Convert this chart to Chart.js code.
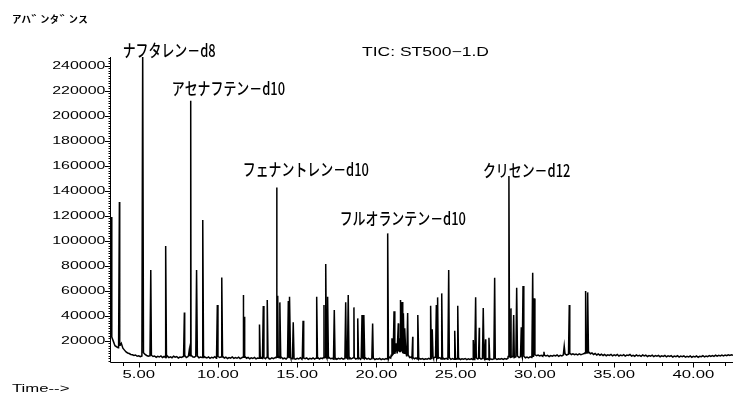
<!DOCTYPE html>
<html>
<head>
<meta charset="utf-8">
<script src="https://cdn.jsdelivr.net/npm/chart.js@4.4.1/dist/chart.umd.min.js"></script>
<style>
  html, body { margin: 0; background: #fff; }
  canvas { display: block; }
</style>
</head>
<body>
<canvas id="tic" width="733" height="394"></canvas>
<script>
// Retention time axis (min) and abundance axis
const xTickValues = [5, 10, 15, 20, 25, 30, 35, 40];
const xTickLabels = ['5.00', '10.00', '15.00', '20.00', '25.00', '30.00', '35.00', '40.00'];
const yTickValues = [20000, 40000, 60000, 80000, 100000, 120000, 140000, 160000, 180000, 200000, 220000, 240000];
const yTickLabels = ['20000', '40000', '60000', '80000', '100000', '120000', '140000', '160000', '180000', '200000', '220000', '240000'];

// solvent tail at the very start of the run
const solventTime = 3.25;
const solventValue = 119000;

// baseline, one value per 0.1 min from 3.3 min, in thousands
const baseStart = 3.3;
const baseStep = 0.1;
const baselineK = [
  23.0, 19.5, 16.0, 15.2, 14.5, 16.5, 18.0, 14.0, 12.5, 11.0,
  10.2, 9.8, 9.0, 8.8, 8.2, 8.6, 7.6, 8.0, 7.2, 7.8,
  10.5, 9.0, 8.2, 7.6, 8.0, 8.4, 7.4, 7.8, 6.8, 7.6,
  7.0, 7.9, 6.6, 7.4, 7.0, 7.8, 6.5, 7.2, 6.4, 7.6,
  6.8, 7.3, 6.2, 7.0, 6.6, 7.4, 7.9, 6.6, 7.2, 8.0,
  8.6, 7.2, 6.8, 7.5, 7.8, 6.4, 7.0, 6.6, 7.8, 6.8,
  6.2, 7.1, 5.9, 6.8, 6.3, 7.2, 6.0, 7.4, 6.6, 7.0,
  7.5, 6.2, 6.8, 5.8, 6.6, 6.1, 7.0, 5.9, 6.5, 6.0,
  6.9, 5.7, 6.4, 6.8, 7.2, 6.0, 6.6, 5.6, 6.3, 5.8,
  6.7, 5.5, 6.2, 6.0, 6.9, 5.8, 6.4, 5.6, 6.6, 6.0,
  5.5, 6.3, 5.7, 6.5, 6.9, 8.0, 6.4, 6.8, 5.6, 6.2,
  5.4, 6.6, 6.9, 6.0, 5.6, 6.3, 5.3, 6.0, 5.5, 6.4,
  5.2, 6.1, 5.6, 6.3, 5.1, 5.9, 5.4, 6.2, 5.3, 6.0,
  6.6, 5.4, 6.1, 5.7, 6.4, 6.9, 6.2, 6.8, 5.6, 6.0,
  5.4, 6.3, 5.2, 5.9, 5.5, 6.1, 5.3, 5.8, 6.4, 5.7,
  6.6, 5.5, 6.0, 6.5, 5.4, 5.9, 6.3, 5.2, 6.2, 5.8,
  6.4, 5.3, 5.9, 5.1, 5.7, 6.2, 5.0, 5.6, 5.2, 5.9,
  4.9, 5.5, 5.1, 5.8, 5.4, 7.0, 6.2, 8.5, 9.5, 12.0,
  10.5, 14.0, 11.5, 13.0, 10.0, 11.0, 8.0, 8.8, 6.6, 7.0,
  6.2, 5.6, 6.3, 5.4, 6.0, 5.2, 5.8, 5.0, 5.6, 5.3,
  6.0, 5.5, 7.5, 6.2, 6.8, 7.2, 6.0, 6.5, 5.4, 6.2,
  5.3, 5.9, 5.2, 6.4, 5.1, 5.7, 5.3, 6.0, 5.4, 6.1,
  5.0, 5.6, 5.2, 5.8, 4.9, 5.5, 5.1, 5.7, 5.0, 5.9,
  6.3, 5.4, 6.0, 5.3, 5.8, 6.2, 5.2, 5.7, 5.0, 5.6,
  5.1, 5.5, 5.9, 5.0, 5.6, 5.2, 5.8, 5.1, 5.7, 5.3,
  6.0, 7.4, 6.8, 7.6, 6.6, 7.2, 7.8, 6.5, 7.3, 6.8,
  7.6, 6.4, 7.0, 6.3, 7.1, 6.7, 7.6, 8.8, 8.0, 8.6,
  7.8, 8.4, 7.6, 8.5, 7.9, 8.3, 7.4, 8.2, 7.6, 8.4,
  7.8, 8.6, 7.5, 8.3, 7.9, 8.8, 9.6, 8.6, 9.2, 9.8,
  9.0, 9.6, 8.8, 9.4, 8.7, 9.5, 8.9, 9.3, 9.8, 10.2,
  10.4, 11.0, 9.6, 10.2, 9.0, 9.8, 8.6, 9.4, 8.4, 9.2,
  8.2, 9.0, 8.0, 8.8, 8.3, 9.1, 7.9, 8.7, 8.1, 9.0,
  7.8, 8.6, 8.0, 8.9, 7.7, 8.5, 8.2, 9.0, 7.8, 8.4,
  7.6, 8.7, 7.9, 8.3, 7.5, 8.6, 7.8, 8.4, 7.4, 8.2,
  7.7, 8.5, 7.3, 8.1, 7.6, 8.3, 7.2, 8.0, 7.5, 8.2,
  7.1, 7.9, 7.4, 8.1, 7.0, 7.8, 7.3, 8.0, 6.9, 7.7,
  7.2, 7.9, 6.9, 7.6, 7.1, 7.8, 6.8, 7.5, 7.0, 7.8,
  6.8, 7.6, 7.2, 8.0, 7.1, 7.8, 7.3, 8.1, 7.4, 8.2,
  7.5, 8.4, 7.6, 8.3, 7.8, 8.6, 7.9, 8.5, 8.0, 8.8,
  8.2, 8.7, 8.4
];

// peak apexes: retention time (min) and abundance
const peakTimes = [
  3.78, 5.25, 5.76, 6.70, 7.88, 8.19, 8.28, 8.65, 9.04, 9.96,
  10.24, 11.60, 11.67, 12.62, 12.86, 13.11, 13.71, 13.77, 13.91, 14.44,
  14.53, 14.75, 15.37, 16.23, 16.69, 16.80, 16.92, 17.34, 18.06, 18.22,
  18.58, 18.82, 19.09, 19.21, 19.76, 20.71, 20.98, 21.11, 21.25, 21.38,
  21.46, 21.53, 21.62, 21.70, 21.80, 21.97, 22.29, 22.62, 23.42, 23.52,
  23.78, 23.86, 24.12, 24.56, 24.94, 25.13, 26.11, 26.26, 26.49, 26.74,
  26.89, 27.10, 27.46, 28.36, 28.49, 28.66, 28.85, 29.14, 29.25, 29.86,
  29.96, 30.57, 31.85, 32.17, 33.20, 33.33
];
const peakHeights = [
  131000, 252000, 76600, 95800, 42600, 12600, 212000, 76600, 116600, 48600,
  70600, 56600, 39200, 33000, 47800, 52600, 142700, 56000, 50700, 51800,
  55200, 34700, 36000, 55200, 48600, 81400, 55200, 44600, 50700, 56600,
  46700, 37900, 40600, 40600, 33700, 105900, 22000, 43600, 18000, 33900,
  22000, 52600, 51000, 42000, 30000, 42200, 23200, 40600, 48000, 29100,
  48600, 54700, 57900, 76600, 28000, 48000, 20600, 54700, 30400, 46200,
  21100, 22400, 70400, 151800, 45900, 40600, 62400, 30700, 63800, 74400,
  53900, 11200, 15800, 48600, 59800, 58700
];

// compound names written over the internal standards
const labelTexts = ['ナフタレン－d8', 'アセナフテン－d10', 'フェナントレン－d10', 'フルオランテン－d10', 'クリセン－d12'];
const labelTimes = [5.25, 8.28, 13.71, 20.71, 28.36];

// text pixel offsets from each labelled apex (style only)
const LABEL_OFFSETS = [[-20, 0], [-19, -6], [-34, -11], [-48, -8], [-26, 1]];
const PEAK_HALF = 0.05;

function footAt(t) {
  let i = Math.round((t - baseStart) / baseStep);
  i = Math.max(0, Math.min(baselineK.length - 1, i));
  return baselineK[i] * 1000;
}

const points = [{ x: solventTime, y: solventValue }];
baselineK.forEach((v, i) => {
  points.push({ x: +(baseStart + i * baseStep).toFixed(2), y: v * 1000 });
});
peakTimes.forEach((t, i) => {
  const f = footAt(t);
  points.push({ x: t - PEAK_HALF, y: f }, { x: t, y: peakHeights[i] }, { x: t + PEAK_HALF, y: f });
});
points.sort((a, b) => a.x - b.x);

// ChemStation-style text is a wide sans face, so stretch it horizontally
function wideText(ctx, text, x, y, font, sx, align) {
  ctx.save();
  ctx.font = font;
  const w = ctx.measureText(text).width * sx;
  const x0 = align === 'right' ? x - w : align === 'center' ? x - w / 2 : x;
  ctx.translate(x0, y);
  ctx.scale(sx, 1);
  ctx.textAlign = 'left';
  ctx.fillText(text, 0, 0);
  ctx.restore();
}

const chemstationAxes = {
  id: 'chemstationAxes',
  afterDraw(chart) {
    const { ctx, chartArea: a, scales: { x, y } } = chart;
    ctx.save();
    ctx.strokeStyle = '#000';
    ctx.fillStyle = '#000';
    ctx.lineWidth = 1;

    // axis lines
    ctx.beginPath();
    ctx.moveTo(a.left - 0.5, a.top);
    ctx.lineTo(a.left - 0.5, a.bottom + 0.5);
    ctx.lineTo(a.right, a.bottom + 0.5);
    ctx.stroke();

    // y minor + major ticks
    ctx.beginPath();
    for (let v = 4000; v <= y.max; v += 2000) {
      const py = Math.round(y.getPixelForValue(v)) + 0.5;
      ctx.moveTo(a.left - 2.5, py);
      ctx.lineTo(a.left - 0.5, py);
    }
    yTickValues.forEach(v => {
      const py = Math.round(y.getPixelForValue(v)) + 0.5;
      ctx.moveTo(a.left - 6, py);
      ctx.lineTo(a.left - 0.5, py);
    });
    // x minor + major ticks
    for (let t = Math.ceil(x.min); t <= x.max; t++) {
      const px = Math.round(x.getPixelForValue(t)) + 0.5;
      ctx.moveTo(px, a.bottom + 0.5);
      ctx.lineTo(px, a.bottom + 4);
    }
    xTickValues.forEach(t => {
      const px = Math.round(x.getPixelForValue(t)) + 0.5;
      ctx.moveTo(px, a.bottom + 0.5);
      ctx.lineTo(px, a.bottom + 5.5);
    });
    ctx.stroke();

    // tick labels
    ctx.textBaseline = 'middle';
    yTickValues.forEach((v, i) => {
      wideText(ctx, yTickLabels[i], a.left - 5.5, y.getPixelForValue(v) + 0.5,
        '10.5px "Liberation Sans"', 1.52, 'right');
    });
    ctx.textBaseline = 'alphabetic';
    xTickValues.forEach((t, i) => {
      wideText(ctx, xTickLabels[i], x.getPixelForValue(t), a.bottom + 15.5,
        '11px "Liberation Sans"', 1.52, 'center');
    });

    // headers
    wideText(ctx, 'ｱﾊﾞﾝﾀﾞﾝｽ', 12, 23, '500 10.5px "Noto Sans CJK JP"', 1.8, 'left');
    wideText(ctx, 'TIC: ST500−1.D', 362, 56, '12.5px "Liberation Sans"', 1.4, 'left');
    wideText(ctx, 'Time-->', 12, 392, '11px "Liberation Sans"', 1.52, 'left');

    // compound labels
    labelTexts.forEach((txt, i) => {
      const k = peakTimes.indexOf(labelTimes[i]);
      const px = x.getPixelForValue(labelTimes[i]);
      const py = Math.max(a.top, y.getPixelForValue(peakHeights[k]));
      wideText(ctx, txt, px + LABEL_OFFSETS[i][0], py + LABEL_OFFSETS[i][1],
        '500 17px "Noto Sans CJK JP"', 0.76, 'left');
    });
    ctx.restore();
  }
};

new Chart(document.getElementById('tic'), {
  type: 'line',
  data: {
    datasets: [{
      data: points,
      borderColor: '#000',
      borderWidth: 1.5,
      pointRadius: 0,
      tension: 0,
      fill: false
    }]
  },
  options: {
    responsive: false,
    animation: false,
    events: [],
    layout: { padding: { left: 111, top: 57, right: 0, bottom: 32 } },
    plugins: { legend: { display: false }, tooltip: { enabled: false } },
    scales: {
      x: {
        type: 'linear', min: 3.25, max: 42.5,
        grid: { display: false, drawTicks: false }, border: { display: false },
        ticks: { display: false }
      },
      y: {
        type: 'linear', min: 3000, max: 247000,
        grid: { display: false, drawTicks: false }, border: { display: false },
        ticks: { display: false }
      }
    }
  },
  plugins: [chemstationAxes]
});
</script>
</body>
</html>
